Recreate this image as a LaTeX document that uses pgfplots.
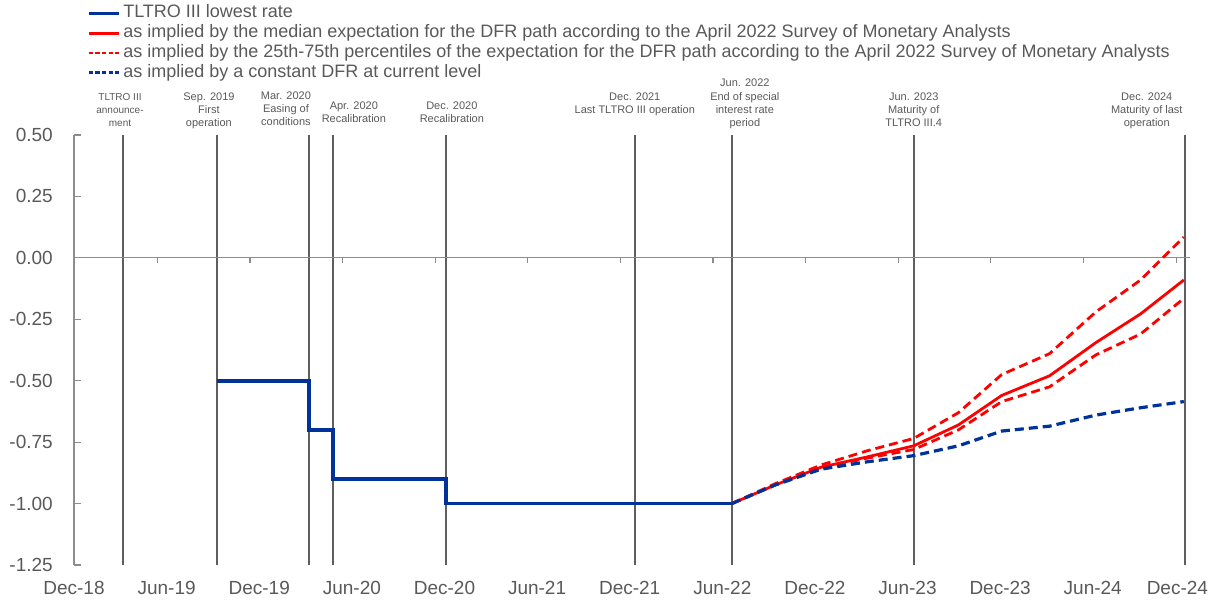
\documentclass[border=0pt]{standalone}
\usepackage{fontspec}
\setmainfont{Liberation Sans}
\usepackage{pgfplots}
\pgfplotsset{compat=1.18}
\definecolor{ecbblue}{HTML}{003299}
\definecolor{vgray}{HTML}{5F5F5F}
\definecolor{agray}{HTML}{8C8C8C}
\definecolor{tgray}{HTML}{595959}
\begin{document}
\begin{tikzpicture}
\begin{axis}[
  name=ax,
  scale only axis, width=1116pt, height=430pt,
  xmin=0, xmax=72.3, ymin=-1.25, ymax=0.5,
  clip=false,
  axis y line*=left, axis x line*=bottom,
  x axis line style={draw=none},
  y axis line style={agray, line width=1.2pt},
  tick align=inside,
  major tick length=7pt,
  ytick={-1.25,-1,-0.75,-0.5,-0.25,0,0.25,0.5},
  ytick style={agray, line width=1.2pt},
  xtick={0,6,12,18,24,30,36,42,48,54,60,66,72},
  xticklabels={Dec-18,Jun-19,Dec-19,Jun-20,Dec-20,Jun-21,Dec-21,Jun-22,Dec-22,Jun-23,Dec-23,Jun-24,\hspace*{-16pt}Dec-24},
  xtick style={draw=none},
  /pgf/number format/assume math mode=true,
  ticklabel style={font=\fontsize{19}{22}\selectfont, text=tgray},
  yticklabel style={/pgf/number format/fixed, /pgf/number format/fixed zerofill, /pgf/number format/precision=2, inner sep=0pt, xshift=-21pt},
  xticklabel style={inner sep=0pt, yshift=-16pt},
  legend image code/.code={\draw[#1] (0pt,0pt) -- (30pt,0pt);},
  legend style={at={(0,1)}, anchor=south west, xshift=12.6pt, yshift=52pt,
    draw=none, fill=none, inner sep=0pt, row sep=0pt,
    font=\fontsize{18}{20}\selectfont, text=tgray,
    cells={anchor=west},
    nodes={inner sep=1.4pt, text height=13pt, text depth=4pt},
    /tikz/every odd column/.append style={column sep=1.5pt}},
  legend cell align=left,
]
% event lines
\addplot[vgray, line width=1.8pt, forget plot] coordinates {(3.17,-1.25) (3.17,0.5)};
\addplot[vgray, line width=1.8pt, forget plot] coordinates {(9.26,-1.25) (9.26,0.5)};
\addplot[vgray, line width=1.8pt, forget plot] coordinates {(15.22,-1.25) (15.22,0.5)};
\addplot[vgray, line width=1.8pt, forget plot] coordinates {(16.77,-1.25) (16.77,0.5)};
\addplot[vgray, line width=1.8pt, forget plot] coordinates {(24.09,-1.25) (24.09,0.5)};
\addplot[vgray, line width=1.8pt, forget plot] coordinates {(36.33,-1.25) (36.33,0.5)};
\addplot[vgray, line width=1.8pt, forget plot] coordinates {(42.62,-1.25) (42.62,0.5)};
\addplot[vgray, line width=1.8pt, forget plot] coordinates {(54.4,-1.25) (54.4,0.5)};
\addplot[vgray, line width=1.8pt, forget plot] coordinates {(72.0,-1.25) (72.0,0.5)};
% zero line
\addplot[agray, line width=1.2pt, forget plot] coordinates {(0,0) (72.3,0)};
\pgfplotsinvokeforeach{5.4,11.4,17.4,23.4,29.4,35.4,41.4,47.4,53.4,59.4,65.4,71.4}{
  \draw[agray, line width=1.2pt] (axis cs:#1,0) -- ++(0pt,-5pt);
}
% series
\addplot[ecbblue, line width=3.6pt] coordinates {
  (9.26,-0.5) (15.22,-0.5) (15.22,-0.7) (16.77,-0.7) (16.77,-0.9) (24.09,-0.9) (24.09,-1.0) (42.62,-1.0)};
\addlegendentry{TLTRO III lowest rate}
\addplot[red, line width=2.8pt] coordinates {
  (42.62,-1.00) (45.4,-0.925) (48.4,-0.852) (51.4,-0.81) (54.4,-0.765) (57.3,-0.68)
  (60.1,-0.56) (63.2,-0.48) (66.2,-0.345) (69.1,-0.228) (71.9,-0.09)};
\addlegendentry{as implied by the median expectation for the DFR path according to the April 2022 Survey of Monetary Analysts}
\addplot[red, line width=2.8pt, dash pattern=on 9pt off 5pt, legend image post style={dash pattern=on 4.5pt off 2.2pt}] coordinates {
  (42.62,-1.00) (45.4,-0.92) (48.4,-0.843) (51.4,-0.785) (54.4,-0.735) (57.3,-0.63)
  (60.1,-0.475) (63.2,-0.39) (66.2,-0.22) (69.1,-0.09) (71.9,0.085)};
\addlegendentry{as implied by the 25th-75th percentiles of the expectation for the DFR path according to the April 2022 Survey of Monetary Analysts}
\addplot[red, line width=2.8pt, dash pattern=on 9pt off 5pt, forget plot] coordinates {
  (42.62,-1.00) (45.4,-0.925) (48.4,-0.855) (51.4,-0.815) (54.4,-0.78) (57.3,-0.70)
  (60.1,-0.585) (63.2,-0.525) (66.2,-0.395) (69.1,-0.31) (71.9,-0.165)};
\addplot[ecbblue, line width=3.2pt, dash pattern=on 9pt off 5pt, legend image post style={dash pattern=on 4.5pt off 2.2pt}] coordinates {
  (42.62,-1.00) (45.4,-0.925) (48.4,-0.86) (51.4,-0.83) (54.4,-0.805) (57.3,-0.765)
  (60.1,-0.705) (63.2,-0.685) (66.2,-0.64) (69.1,-0.61) (71.9,-0.585)};
\addlegendentry{as implied by a constant DFR at current level}
% annotations
\tikzset{annot/.style={font=\fontsize{11}{13.3}\selectfont, text=tgray, align=center, inner sep=0pt, text depth=0pt, anchor=south}}
\node[annot, yshift=8pt, font=\fontsize{10}{13}\selectfont] at (axis cs:2.98,0.5) {TLTRO III\\announce-\\ment};
\node[annot, yshift=8pt] at (axis cs:8.74,0.5) {Sep. 2019\\First\\operation};
\node[annot, yshift=9pt] at (axis cs:13.73,0.5) {Mar. 2020\\Easing of\\conditions};
\node[annot, yshift=12pt] at (axis cs:18.13,0.5) {Apr. 2020\\Recalibration};
\node[annot, yshift=12pt] at (axis cs:24.48,0.5) {Dec. 2020\\Recalibration};
\node[annot, yshift=21pt] at (axis cs:36.33,0.5) {Dec. 2021\\Last TLTRO III operation};
\node[annot, yshift=8pt] at (axis cs:43.46,0.5) {Jun. 2022\\End of special\\interest rate\\period};
\node[annot, yshift=8pt] at (axis cs:54.4,0.5) {Jun. 2023\\Maturity of\\TLTRO III.4};
\node[annot, yshift=8pt] at (axis cs:69.5,0.5) {Dec. 2024\\Maturity of last\\operation};
\end{axis}
\pgfresetboundingbox
\path ([shift={(-74pt,-36pt)}]ax.south west) rectangle ([shift={(21pt,135pt)}]ax.north east);
\end{tikzpicture}
\end{document}
